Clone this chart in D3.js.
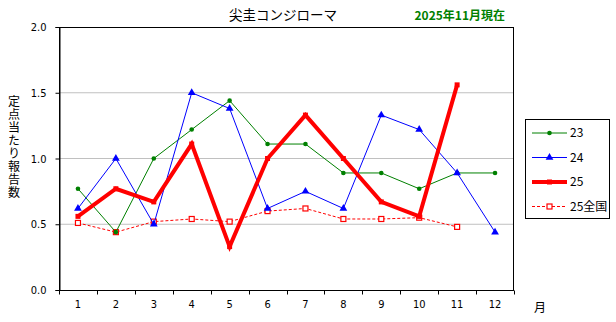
<!DOCTYPE html>
<html>
<head>
<meta charset="utf-8">
<script src="https://cdn.jsdelivr.net/npm/d3@7"></script>
<style>
  html, body { margin: 0; padding: 0; background: #fff; }
  svg { display: block; }
</style>
</head>
<body>
<svg id="chart" width="616" height="322"></svg>
<script>
// 月別の定点当たり報告数
const months = ["1", "2", "3", "4", "5", "6", "7", "8", "9", "10", "11", "12"];
const yTicks = [0, 0.5, 1.0, 1.5, 2.0];
const values23 = [0.77, 0.44, 1.00, 1.22, 1.44, 1.11, 1.11, 0.89, 0.89, 0.77, 0.89, 0.89];
const values24 = [0.62, 1.00, 0.50, 1.50, 1.38, 0.62, 0.75, 0.62, 1.33, 1.22, 0.89, 0.44];
const values25 = [0.56, 0.77, 0.67, 1.11, 0.33, 1.00, 1.33, 1.00, 0.67, 0.56, 1.56];
const values25nat = [0.51, 0.44, 0.52, 0.54, 0.52, 0.60, 0.62, 0.54, 0.54, 0.55, 0.48];
const seriesNames = ["23", "24", "25", "25全国"];

const svg = d3.select("#chart");
const plot = { left: 59, right: 514, top: 27, bottom: 290 };
const numFont = "'DejaVu Sans Condensed', 'DejaVu Sans', sans-serif";
const jpFont = "'Noto Sans CJK JP', sans-serif";

const x = d3.scaleBand().domain(months).range([plot.left, plot.right]);
const y = d3.scaleLinear().domain([0, 2]).range([plot.bottom, plot.top]);
const cx = m => x(m) + x.bandwidth() / 2;

// grid lines
svg.append("g").selectAll("line")
  .data(yTicks.filter(t => t > 0 && t < 2))
  .join("line")
  .attr("x1", plot.left).attr("x2", plot.right)
  .attr("y1", d => y(d)).attr("y2", d => y(d))
  .attr("stroke", "#c0c0c0").attr("stroke-width", 1);

// plot frame
svg.append("rect")
  .attr("x", plot.left + 0.5).attr("y", plot.top + 0.5)
  .attr("width", plot.right - plot.left - 1).attr("height", plot.bottom - plot.top)
  .attr("fill", "none").attr("stroke", "#000").attr("stroke-width", 1);

// y axis
const yAxis = svg.append("g")
  .attr("transform", `translate(${plot.left + 0.5},0)`)
  .call(d3.axisLeft(y).tickValues(yTicks).tickFormat(d3.format(".1f")).tickSize(4).tickPadding(9));
yAxis.select(".domain").attr("stroke", "#000");
yAxis.selectAll("text").attr("font-family", numFont).attr("font-size", 11).attr("fill", "#000");

// x axis: ticks at the band edges, labels at band centres
const xAxis = svg.append("g").attr("transform", `translate(0,${plot.bottom + 0.5})`);
xAxis.append("line").attr("x1", plot.left).attr("x2", plot.right).attr("stroke", "#000");
xAxis.selectAll("line.tk")
  .data(months.map(m => x(m)).concat([plot.right - 0.5]))
  .join("line").attr("class", "tk")
  .attr("x1", d => Math.round(d) + 0.5).attr("x2", d => Math.round(d) + 0.5)
  .attr("y1", 0).attr("y2", 4).attr("stroke", "#000");
xAxis.selectAll("text")
  .data(months)
  .join("text")
  .attr("x", d => cx(d)).attr("y", 17)
  .attr("text-anchor", "middle")
  .attr("font-family", numFont).attr("font-size", 11)
  .text(d => d);

svg.append("text")
  .attr("x", 540).attr("y", 312)
  .attr("text-anchor", "middle")
  .attr("font-family", jpFont).attr("font-size", 12)
  .text("月");

// titles
svg.append("text")
  .attr("x", 283).attr("y", 20)
  .attr("text-anchor", "middle")
  .attr("font-family", jpFont).attr("font-size", 13.5)
  .text("尖圭コンジローマ");
svg.append("text")
  .attr("x", 505).attr("y", 20)
  .attr("text-anchor", "end")
  .attr("font-family", jpFont).attr("font-size", 12).attr("font-weight", "bold")
  .attr("fill", "#008000")
  .text("2025年11月現在");

// vertical y-axis label, set in vertical writing mode
svg.append("text")
  .attr("x", 14).attr("y", 95)
  .style("writing-mode", "vertical-rl")
  .attr("letter-spacing", 1)
  .attr("font-family", jpFont).attr("font-size", 12)
  .text("定点当たり報告数");

// series
const line = d3.line().x((d, i) => cx(months[i])).y(d => y(d));

function drawMarkers(g, data, kind, color) {
  const pts = data.map((v, i) => [cx(months[i]), y(v)]);
  if (kind === "circle") {
    g.selectAll("circle").data(pts).join("circle")
      .attr("cx", d => d[0]).attr("cy", d => d[1]).attr("r", 2.3).attr("fill", color);
  } else if (kind === "triangle") {
    const tri = d3.symbol().type(d3.symbolTriangle).size(26);
    g.selectAll("path.m").data(pts).join("path").attr("class", "m")
      .attr("d", tri).attr("transform", d => `translate(${d[0]},${d[1]})`).attr("fill", color);
  } else if (kind === "square") {
    g.selectAll("rect").data(pts).join("rect")
      .attr("x", d => d[0] - 2.5).attr("y", d => d[1] - 2.5).attr("width", 5).attr("height", 5).attr("fill", color);
  } else if (kind === "openSquare") {
    g.selectAll("rect").data(pts).join("rect")
      .attr("x", d => d[0] - 2.5).attr("y", d => d[1] - 2.5).attr("width", 5).attr("height", 5)
      .attr("fill", "#fff").attr("stroke", color).attr("stroke-width", 1.2);
  }
}

const series = [
  { name: seriesNames[3], data: values25nat, color: "#ff0000", width: 1, dash: "3,2", marker: "openSquare" },
  { name: seriesNames[0], data: values23, color: "#008000", width: 1, dash: null, marker: "circle" },
  { name: seriesNames[1], data: values24, color: "#0000ff", width: 1, dash: null, marker: "triangle" },
  { name: seriesNames[2], data: values25, color: "#ff0000", width: 4, dash: null, marker: "square" }
];

series.forEach(s => {
  const g = svg.append("g");
  g.append("path").datum(s.data)
    .attr("d", line).attr("fill", "none")
    .attr("stroke", s.color).attr("stroke-width", s.width)
    .attr("stroke-dasharray", s.dash).attr("stroke-linejoin", "miter");
  drawMarkers(g, s.data, s.marker, s.color);
});

// legend
const legend = svg.append("g");
legend.append("rect")
  .attr("x", 525.5).attr("y", 119.5).attr("width", 84).attr("height", 99)
  .attr("fill", "#fff").attr("stroke", "#000");
const legendOrder = [series[1], series[2], series[3], series[0]];
legendOrder.forEach((s, i) => {
  const ly = 133 + i * 24.5;
  const g = legend.append("g");
  g.append("line").attr("x1", 532).attr("x2", 567).attr("y1", ly).attr("y2", ly)
    .attr("stroke", s.color).attr("stroke-width", s.width).attr("stroke-dasharray", s.dash);
  const mx = 549.5;
  if (s.marker === "circle") {
    g.append("circle").attr("cx", mx).attr("cy", ly).attr("r", 2.3).attr("fill", s.color);
  } else if (s.marker === "triangle") {
    g.append("path").attr("d", d3.symbol().type(d3.symbolTriangle).size(26)())
      .attr("transform", `translate(${mx},${ly})`).attr("fill", s.color);
  } else if (s.marker === "square") {
    g.append("rect").attr("x", mx - 2.5).attr("y", ly - 2.5).attr("width", 5).attr("height", 5).attr("fill", s.color);
  } else {
    g.append("rect").attr("x", mx - 2.5).attr("y", ly - 2.5).attr("width", 5).attr("height", 5)
      .attr("fill", "#fff").attr("stroke", s.color).attr("stroke-width", 1.2);
  }
  g.append("text").attr("x", 570).attr("y", ly + 4)
    .attr("font-family", jpFont).attr("font-size", 12)
    .text(s.name);
});
</script>
</body>
</html>
